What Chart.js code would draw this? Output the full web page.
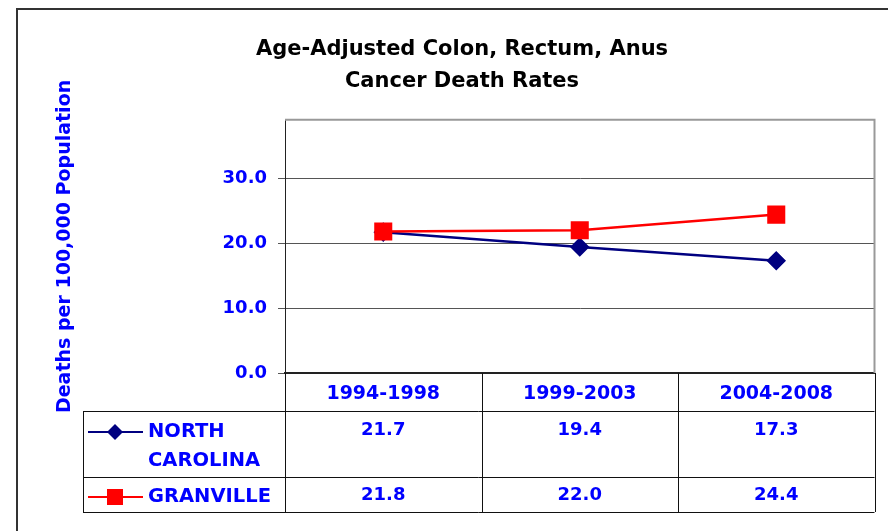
<!DOCTYPE html>
<html>
<head>
<meta charset="utf-8">
<script src="https://cdn.jsdelivr.net/npm/chart.js@4.4.1/dist/chart.umd.min.js"></script>
<style>
  html, body { margin: 0; padding: 0; background: #fff; }
</style>
</head>
<body>
<canvas id="rateChart" width="888" height="531"></canvas>
<script>
// data
const periods = ['1994-1998', '1999-2003', '2004-2008'];
const ncRates = [21.7, 19.4, 17.3];
const granvilleRates = [21.8, 22.0, 24.4];
const seriesLabels = [['NORTH', 'CAROLINA'], ['GRANVILLE']];
const yTickValues = [0, 10, 20, 30];

const BLUE = '#0000ff';
const FONT = "'DejaVu Sans', Verdana, sans-serif";

// Excel-like data table under the plot + frames
const tablePlugin = {
    id: 'dataTable',
    beforeDatasetsDraw(chart) {
        const c = chart.ctx, a = chart.chartArea;
        c.save();
        c.strokeStyle = '#999';
        c.lineWidth = 2;
        c.beginPath();
        c.moveTo(a.left, a.top);
        c.lineTo(a.right, a.top);
        c.lineTo(a.right, a.bottom);
        c.stroke();
        c.restore();
    },
    afterDraw(chart) {
        const c = chart.ctx, a = chart.chartArea, xs = chart.scales.x;
        const step = xs.getPixelForValue(1) - xs.getPixelForValue(0);
        const top = a.bottom;
        const head = top + 38;
        const r1 = head + 66;
        const r2 = r1 + 35;
        const left = 83;

        const line = (x1, y1, x2, y2) => {
            c.beginPath(); c.moveTo(x1, y1); c.lineTo(x2, y2); c.stroke();
        };

        c.save();
        c.strokeStyle = '#111';
        c.lineWidth = 1;
        [head, r1, r2].forEach(y => line(left, Math.round(y) + 0.5, a.right, Math.round(y) + 0.5));
        line(left + 0.5, head, left + 0.5, r2);
        for (let i = 0; i <= periods.length; i++) {
            const x = Math.round(xs.getPixelForValue(i) - step / 2) + 0.5;
            line(x, top, x, r2);
        }

        // values
        c.fillStyle = BLUE;
        c.font = 'bold 18px ' + FONT;
        c.textAlign = 'center';
        c.textBaseline = 'middle';
        const rows = [ncRates, granvilleRates];
        const rowY = [head + 19, r1 + 18];
        rows.forEach((vals, r) => {
            vals.forEach((v, i) => c.fillText(v.toFixed(1), xs.getPixelForValue(i), rowY[r]));
        });

        // legend keys
        c.textAlign = 'left';
        c.font = 'bold 19.5px ' + FONT;
        chart.data.datasets.forEach((ds, r) => {
            const y = rowY[r] + 2;
            c.strokeStyle = ds.borderColor;
            c.lineWidth = 2;
            line(88, y, 143, y);
            c.fillStyle = ds.borderColor;
            if (ds.pointStyle === 'rectRot') {
                c.beginPath();
                c.moveTo(115, y - 8); c.lineTo(123, y); c.lineTo(115, y + 8); c.lineTo(107, y);
                c.closePath(); c.fill();
            } else {
                c.fillRect(107, y - 8, 16, 16);
            }
            c.fillStyle = BLUE;
            seriesLabels[r].forEach((t, k) => c.fillText(t, 148, y + k * 29));
        });

        // outer frame
        c.strokeStyle = '#333';
        c.lineWidth = 2;
        c.beginPath();
        c.moveTo(17, 531); c.lineTo(17, 9); c.lineTo(888, 9);
        c.stroke();
        c.restore();
    }
};

new Chart(document.getElementById('rateChart'), {
    type: 'line',
    data: {
        labels: periods,
        datasets: [{
            label: 'NORTH CAROLINA',
            data: ncRates,
            borderColor: '#000080',
            backgroundColor: '#000080',
            borderWidth: 2.5,
            pointStyle: 'rectRot',
            pointRadius: 8,
            pointHoverRadius: 8,
            tension: 0,
            order: 1
        }, {
            label: 'GRANVILLE',
            data: granvilleRates,
            borderColor: '#ff0000',
            backgroundColor: '#ff0000',
            borderWidth: 2.5,
            pointStyle: 'rect',
            pointRadius: 11,
            pointHoverRadius: 11,
            tension: 0,
            order: 0
        }]
    },
    options: {
        responsive: false,
        animation: false,
        layout: { padding: { left: 48, right: 12, top: 0, bottom: 0 } },
        plugins: {
            legend: { display: false },
            tooltip: { enabled: false },
            title: {
                display: true,
                text: ['Age-Adjusted Colon, Rectum, Anus', 'Cancer Death Rates'],
                color: '#000',
                font: { family: FONT, size: 21, weight: 'bold', lineHeight: 1.52 },
                padding: { top: 34, bottom: 22 }
            }
        },
        scales: {
            x: {
                offset: true,
                grid: { display: false, drawTicks: false },
                border: { display: true, color: '#222', width: 2 },
                ticks: { color: BLUE, font: { family: FONT, size: 19, weight: 'bold' }, padding: 10, maxRotation: 0 },
                afterFit: s => { s.height = 531 - 373; }
            },
            y: {
                min: 0,
                max: 39,
                afterBuildTicks: s => { s.ticks = yTickValues.map(v => ({ value: v })); },
                grid: { color: '#555', lineWidth: 1, tickLength: 7, drawTicks: true },
                border: { display: true, color: '#222', width: 1 },
                ticks: {
                    color: BLUE,
                    font: { family: FONT, size: 18, weight: 'bold' },
                    padding: 11,
                    callback: v => Number(v).toFixed(1)
                },
                title: {
                    display: true,
                    text: 'Deaths per 100,000 Population',
                    color: BLUE,
                    font: { family: FONT, size: 19, weight: 'bold' },
                    padding: { top: 6, bottom: 0 }
                },
                afterFit: s => { s.width = 285 - 48; }
            }
        }
    },
    plugins: [tablePlugin]
});
</script>
</body>
</html>
